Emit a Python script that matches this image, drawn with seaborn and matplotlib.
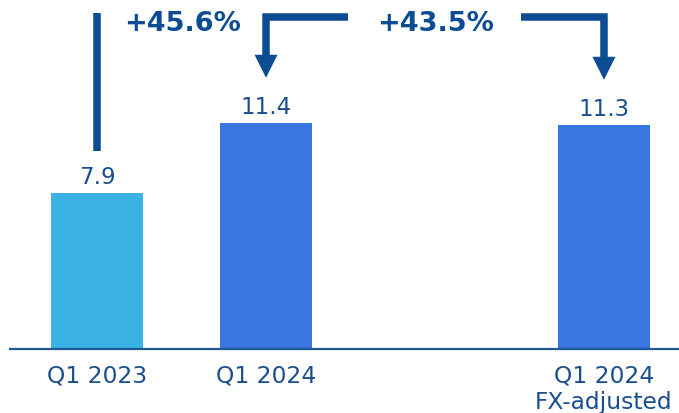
import matplotlib
matplotlib.use("Agg")
import matplotlib.pyplot as plt
import seaborn as sns
import pandas as pd

# ---- data ----
labels = ["Q1 2023", "Q1 2024", "Q1 2024\nFX-adjusted"]
positions = [0, 1, 3]
values = [7.9, 11.4, 11.3]
value_text = ["7.9", "11.4", "11.3"]
growth_text = ["+45.6%", "+43.5%"]

bar_colors = ["#3AB2E3", "#3A76E0"]
dark = "#0B4C93"
label_col = "#1A4F8E"

df = pd.DataFrame({"pos": positions, "value": values, "label": labels,
                   "grp": ["a", "b", "b"]})

sns.set_theme(style="white")
plt.rcParams["font.family"] = ["DejaVu Sans"]

fig = plt.figure(figsize=(6.79, 4.14), dpi=100)
ax = fig.add_axes([10 / 679, 64 / 414, 669 / 679, 350 / 414])

sns.barplot(data=df, x="pos", y="value", hue="grp", palette=bar_colors,
            native_scale=True, width=0.545, legend=False, ax=ax,
            saturation=1, linewidth=0)

ax.set_xlim(-0.515, 3.444)
ax.set_ylim(0, 17.68)
ax.set_xlabel("")
ax.set_ylabel("")
ax.set_yticks([])
ax.set_xticks(positions)
ax.set_xticklabels(labels, fontsize=16.8, color=label_col)
ax.tick_params(axis="x", length=0, pad=10.5)
for s in ["top", "right", "left"]:
    ax.spines[s].set_visible(False)
ax.spines["bottom"].set_color("#1F5797")
ax.spines["bottom"].set_linewidth(1.6)

# value labels
for p, v, t in zip(positions, values, value_text):
    ax.text(p, v + 0.5, t, ha="center", va="baseline", fontsize=16.5,
            color=label_col)

# arrows
lw = 5.4
y_top = 16.77
ext = 0.19
x_px = 169.0
y_px = 19.8
head_h = 23 / y_px
head_hw = 11.5 / x_px

# left vertical rising from first bar
ax.plot([positions[0], positions[0]], [values[0] + 2.1, y_top + ext],
        color=dark, lw=lw, solid_capstyle="butt", zorder=5)

def elbow(x_start, x_end, v):
    tip = v + 2.3
    ax.plot([x_start, x_end, x_end], [y_top, y_top, tip + head_h * 0.9],
            color=dark, lw=lw, solid_capstyle="butt",
            solid_joinstyle="miter", zorder=5)
    ax.fill([x_end - head_hw, x_end + head_hw, x_end],
            [tip + head_h, tip + head_h, tip], color=dark, lw=0, zorder=6)

elbow((348 - 97) / x_px, positions[1], values[1])
elbow((521 - 97) / x_px, positions[2], values[2])

# growth texts
ax.text(0.509, 16.11, growth_text[0], ha="center", va="baseline",
        fontsize=19.5, fontweight="bold", color=dark, zorder=7)
ax.text(2.006, 16.11, growth_text[1], ha="center", va="baseline",
        fontsize=19.5, fontweight="bold", color=dark, zorder=7)

fig.savefig("out.png", dpi=100)
